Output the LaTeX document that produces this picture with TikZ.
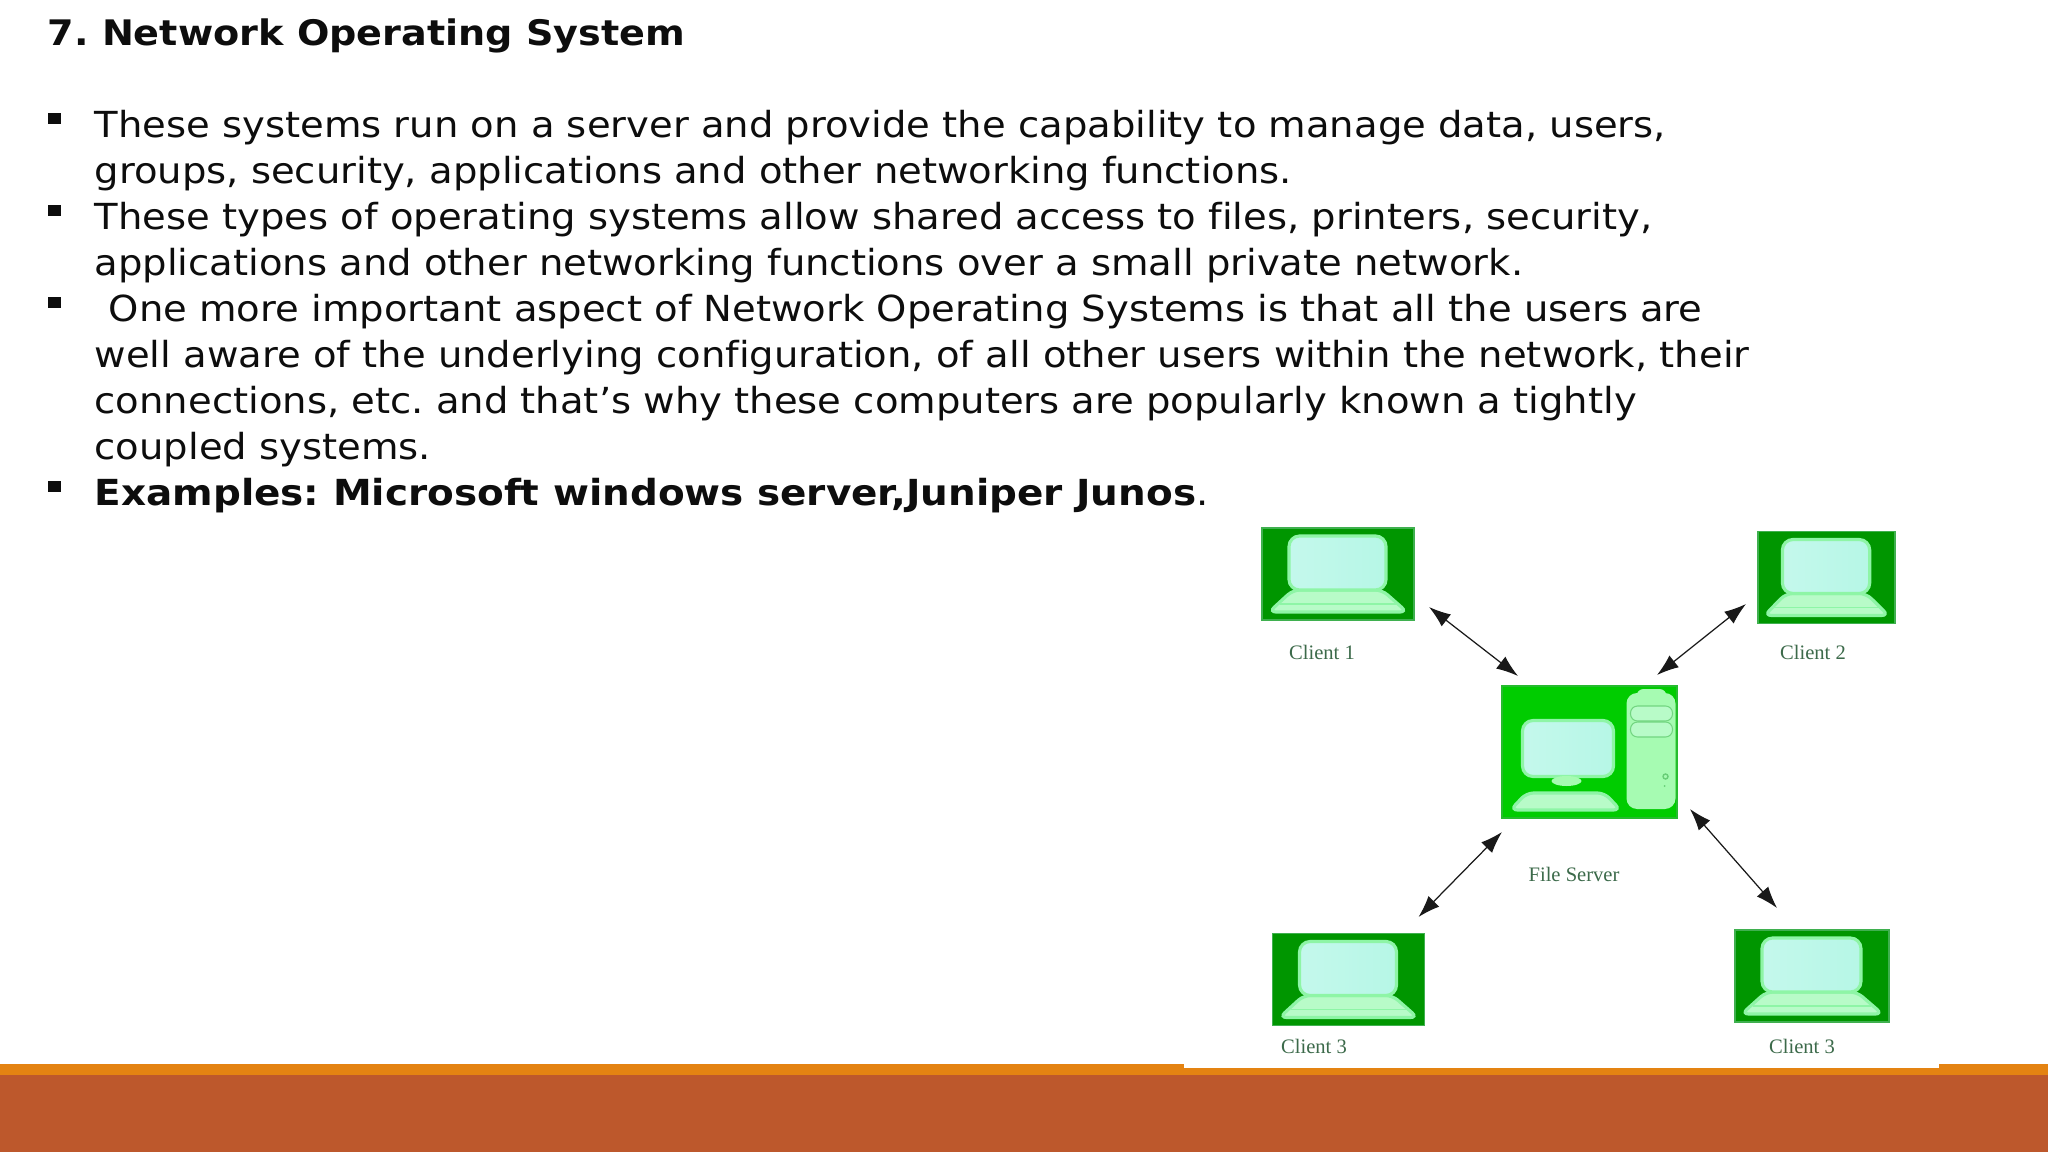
\documentclass[tikz,border=0pt]{standalone}
\usepackage{fontspec}
\usepackage{tikz}
\usetikzlibrary{arrows.meta}
\setmainfont[FakeStretch=1.074, Ligatures=NoCommon, BoldFeatures={FakeStretch=1.085}]{DejaVu Sans}
\newfontfamily\labelfont{Liberation Serif}
\definecolor{footbrown}{HTML}{BD582C}
\definecolor{footorange}{HTML}{E48312}
\definecolor{clientgreen}{HTML}{009600}
\definecolor{servergreen}{HTML}{00CC00}
\definecolor{framegreen}{HTML}{3FB04F}
\definecolor{paleline}{HTML}{8EF5A6}
\definecolor{screenleft}{HTML}{C4F8EC}
\definecolor{screenright}{HTML}{B6F7E6}
\definecolor{basegreen}{HTML}{B8FBC8}
\definecolor{towergreen}{HTML}{A6FBB2}
\definecolor{labelgreen}{HTML}{3C6A4A}
\tikzset{
    bodytext/.style={anchor=north west, inner sep=0pt, align=left, text=black!95,
        font=\frenchspacing\fontsize{10.2}{13.09}\selectfont},
    bulletmark/.style={fill=black!95, inner sep=0pt, minimum width=13*0.2845pt, minimum height=11*0.2845pt},
    clientbox/.style={fill=clientgreen, draw=framegreen, line width=0.5pt,
        minimum width=152*0.2845pt, minimum height=92*0.2845pt, inner sep=0pt},
    serverbox/.style={fill=servergreen, draw=framegreen!60!servergreen, line width=0.6pt,
        minimum width=175*0.2845pt, minimum height=132*0.2845pt, inner sep=0pt},
    netlabel/.style={text=labelgreen, inner sep=0pt, font=\labelfont\fontsize{5.85}{7}\selectfont},
    link/.style={{Latex[length=6.2pt,width=4.3pt]}-{Latex[length=6.2pt,width=4.3pt]}, line width=0.35pt, black!90},
    screenpart/.style={left color=screenleft, right color=screenright, draw=paleline, line width=0.9pt, rounded corners=3pt},
    basepart/.style={fill=basegreen, draw=paleline, line width=0.9pt, rounded corners=2pt},
}
% laptop drawn inside a client box: name, width factor
\newcommand{\laptopicon}[2]{
    \begin{scope}[shift={(#1.center)}, xscale=#2]
        \path[basepart] (-45,16) -- (44,16) -- (69,38) -- (-69,38) -- cycle;
        \draw[paleline, line width=0.4pt] (-58,30) -- (58,30);
        \path[screenpart] (-49,-38) rectangle (48,16);
    \end{scope}
}
\begin{document}
\begin{tikzpicture}[x=0.01cm, y=-0.01cm]
    \useasboundingbox (0,0) rectangle (2048,1152);

    % Footer bands
    \fill[footorange] (0,1064) rectangle (2048,1075);
    \fill[footbrown] (0,1075) rectangle (2048,1152);
    \fill[white] (1184,500) rectangle (1939,1068);

    % Heading and text
    \node[bodytext, font=\frenchspacing\bfseries\fontsize{10}{13.09}\selectfont] (heading) at (47,12.5) {\strut 7. Network Operating System};
    \node[bodytext] (item1) at (94,104.8) {\strut These systems run on a server and provide the capability to manage data, users,\\
        groups, security, applications and other networking functions.};
    \node[bodytext] (item2) at (94,196.8) {\strut These types of operating systems allow shared access to files, printers, security,\\
        applications and other networking functions over a small private network.};
    \node[bodytext] (item3) at (94,288.8) {\strut\hspace*{4pt}One more important aspect of Network Operating Systems is that all the users are\\
        well aware of the underlying configuration, of all other users within the network, their\\
        connections, etc. and that’s why these computers are popularly known a tightly\\
        coupled systems.};
    \node[bodytext] (item4) at (94,472.8) {\strut\textbf{Examples: Microsoft windows server,Juniper Junos}.};
    \foreach \y in {118.5,210.5,302.5,486.5}
        \node[bulletmark] (bullet\y) at (54.5,\y) {};

    % Clients
    \node[clientbox] (client1) at (1338,574) {};
    \node[clientbox, minimum width=137*0.2845pt] (client2) at (1826.5,577.5) {};
    \node[clientbox] (client3) at (1348.5,979.5) {};
    \node[clientbox, minimum width=154*0.2845pt] (client4) at (1812,976) {};
    \laptopicon{client1}{1}
    \laptopicon{client2}{0.9}
    \laptopicon{client3}{1}
    \laptopicon{client4}{1.02}

    % File server
    \node[serverbox] (server) at (1589.5,752) {};
    \begin{scope}[shift={(server.center)}]
        \path[screenpart] (-67,-31.5) rectangle (24,24.5);
        \fill[towergreen] (-23,29) ellipse (15 and 5);
        \path[basepart] (-63,41) -- (15,41) -- (31,58) -- (-79,58) -- cycle;
        \fill[towergreen, rounded corners=2pt] (47,-63) rectangle (77,-50);
        \path[fill=towergreen, rounded corners=3pt] (37,-59) rectangle (86,57);
        \foreach \y in {-46,-30}
            \draw[fill=basegreen, draw=framegreen!50!towergreen, line width=0.3pt, rounded corners=2pt] (41,\y) rectangle (83,\y+15);
        \draw[framegreen!60!towergreen, line width=0.4pt] (76,24.5) circle (2.5);
        \fill[framegreen!60!towergreen] (75,34) circle (1);
    \end{scope}

    % Labels
    \node[netlabel] (label1) at (1322,652) {Client 1};
    \node[netlabel] (label2) at (1813,652) {Client 2};
    \node[netlabel] (label3) at (1314,1046) {Client 3};
    \node[netlabel] (label4) at (1802,1046) {Client 3};
    \node[netlabel] (label5) at (1574,874) {File Server};

    % Double arrows
    \coordinate (end1) at (1429,607);
    \coordinate (srv1) at (1518,676);
    \coordinate (end2) at (1746,604);
    \coordinate (srv2) at (1657,675);
    \coordinate (end3) at (1418.5,917);
    \coordinate (srv3) at (1502,832);
    \coordinate (end4) at (1777,908);
    \coordinate (srv4) at (1690,809);
    \draw[link] (end1) -- (srv1);
    \draw[link] (end2) -- (srv2);
    \draw[link] (end3) -- (srv3);
    \draw[link] (end4) -- (srv4);
\end{tikzpicture}
\end{document}
